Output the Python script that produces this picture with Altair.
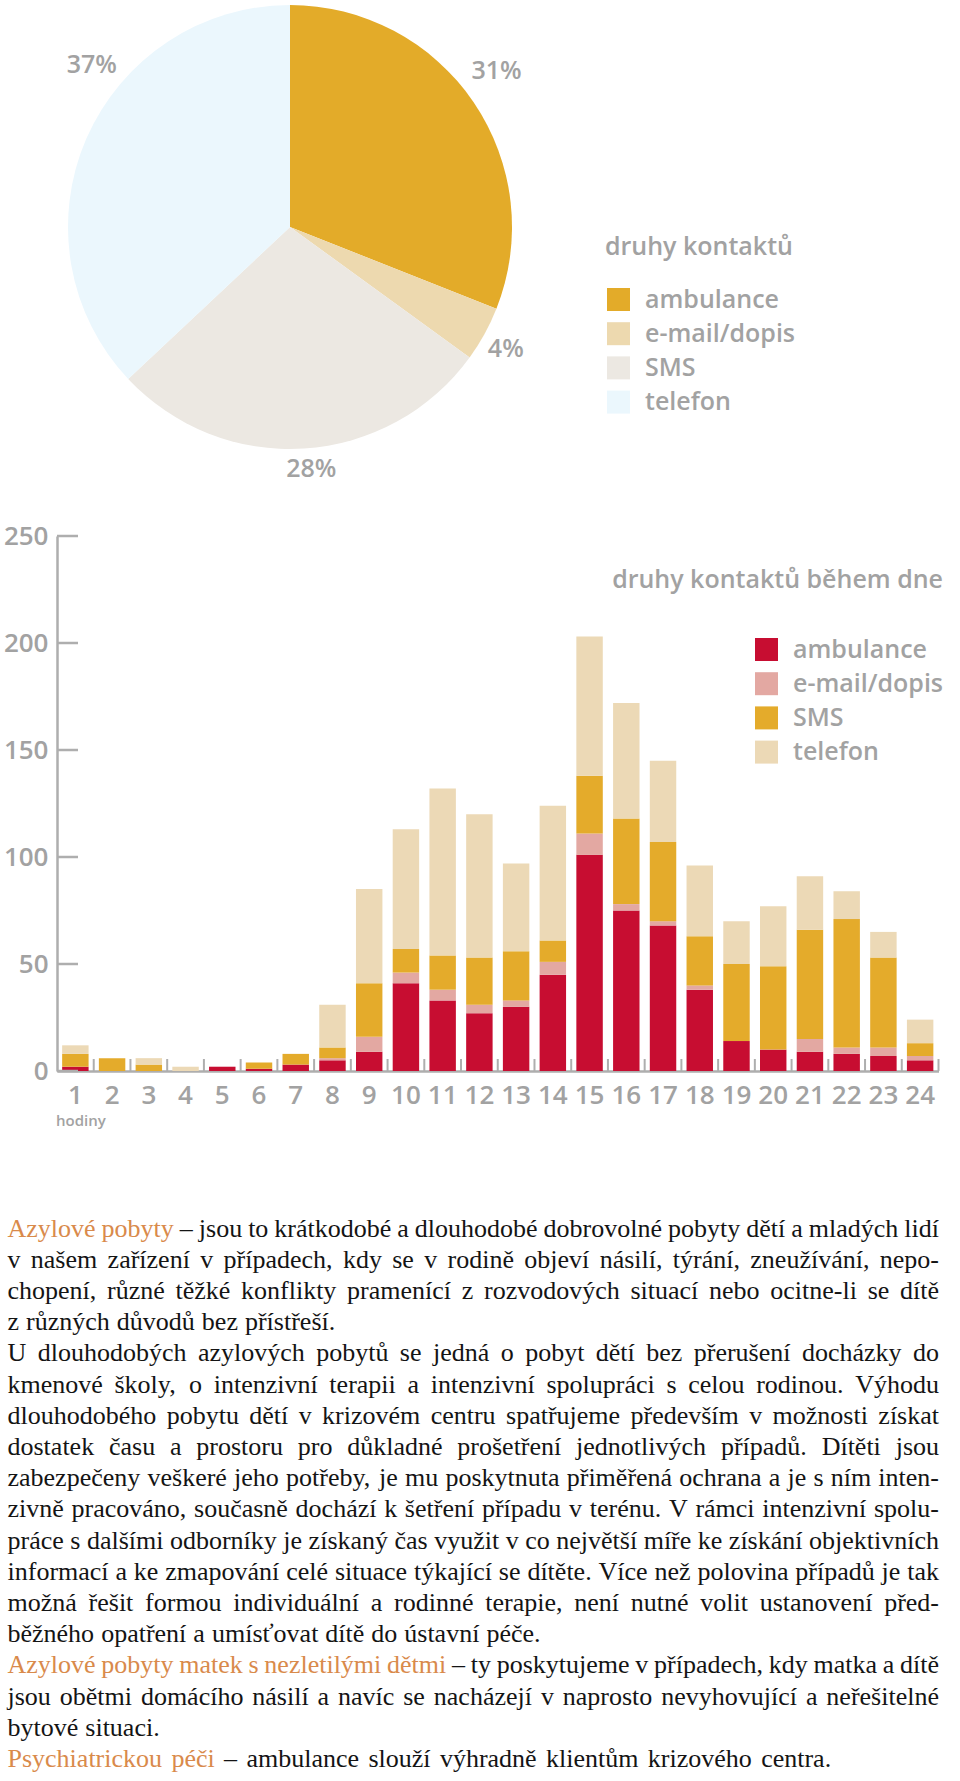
import altair as alt
import pandas as pd

# ---------------- data ----------------
PIE_TYPES = ["ambulance", "e-mail/dopis", "SMS", "telefon"]
PIE_SHARES = [31, 4, 28, 37]
PIE_COLORS = ["#E3AB29", "#EDD9AF", "#ECE8E2", "#EBF7FD"]

HOURS = list(range(1, 25))
BAR_TYPES = ["ambulance", "e-mail/dopis", "SMS", "telefon"]
BAR_COLORS = ["#C70D31", "#E3A8A2", "#E4AB2B", "#ECD9B6"]
AMBULANCE = [2, 0, 0, 0, 2, 1, 3, 5, 9, 41, 33, 27, 30, 45, 101, 75, 68, 38, 14, 10, 9, 8, 7, 5]
EMAIL = [0, 0, 0, 0, 0, 0, 0, 1, 7, 5, 5, 4, 3, 6, 10, 3, 2, 2, 0, 0, 6, 3, 4, 2]
SMS = [6, 6, 3, 0, 0, 3, 5, 5, 25, 11, 16, 22, 23, 10, 27, 40, 37, 23, 36, 39, 51, 60, 42, 6]
TELEFON = [4, 0, 3, 2, 0, 0, 0, 20, 44, 56, 78, 67, 41, 63, 65, 54, 38, 33, 20, 28, 25, 13, 12, 11]
Y_TICKS = [0, 50, 100, 150, 200, 250]

PIE_TITLE = "druhy kontaktů"
BAR_TITLE = "druhy kontaktů během dne"
X_NOTE = "hodiny"

HEADINGS = ["Azylové pobyty", "Azylové pobyty matek s nezletilými dětmi", "Psychiatrickou péči"]
LINES = [
    "Azylové pobyty – jsou to krátkodobé a dlouhodobé dobrovolné pobyty dětí a mladých lidí",
    "v našem zařízení v případech, kdy se v rodině objeví násilí, týrání, zneužívání, nepo-",
    "chopení, různé těžké konflikty pramenící z rozvodových situací nebo ocitne-li se dítě",
    "z různých důvodů bez přístřeší.",
    "U dlouhodobých azylových pobytů se jedná o pobyt dětí bez přerušení docházky do",
    "kmenové školy, o intenzivní terapii a intenzivní spolupráci s celou rodinou. Výhodu",
    "dlouhodobého pobytu dětí v krizovém centru spatřujeme především v možnosti získat",
    "dostatek času a prostoru pro důkladné prošetření jednotlivých případů. Dítěti jsou",
    "zabezpečeny veškeré jeho potřeby, je mu poskytnuta přiměřená ochrana a je s ním inten-",
    "zivně pracováno, současně dochází k šetření případu v terénu. V rámci intenzivní spolu-",
    "práce s dalšími odborníky je získaný čas využit v co největší míře ke získání objektivních",
    "informací a ke zmapování celé situace týkající se dítěte. Více než polovina případů je tak",
    "možná řešit formou individuální a rodinné terapie, není nutné volit ustanovení před-",
    "běžného opatření a umísťovat dítě do ústavní péče.",
    "Azylové pobyty matek s nezletilými dětmi – ty poskytujeme v případech, kdy matka a dítě",
    "jsou obětmi domácího násilí a navíc se nacházejí v naprosto nevyhovující a neřešitelné",
    "bytové situaci.",
    "Psychiatrickou péči –  ambulance slouží výhradně klientům krizového centra.",
]
PARAGRAPH_ENDS = [3, 13, 16, 17]  # lines that are not justified

# ---------------- styling ----------------
GREY = "#A2A2A2"
AXIS_GREY = "#AEAEAE"
FONT = "Open Sans"
WEIGHT = 600
SERIF = "Liberation Serif"
TEXT_BLACK = "#141414"
ORANGE = "#D98A4B"

PLOT_W = 881.5
PLOT_H = 535
PIE_X, PIE_Y, PIE_R = 233, -309, 222

# ---------------- pie ----------------
pie_df = pd.DataFrame({"type": PIE_TYPES, "share": PIE_SHARES, "idx": list(range(len(PIE_TYPES)))})
theta_scale = alt.Scale(domain=[0, 100])

pie = alt.Chart(pie_df).mark_arc(radius=PIE_R).encode(
    theta=alt.Theta("share:Q", stack=True, scale=theta_scale),
    order=alt.Order("idx:Q"),
    color=alt.Color(
        "type:N",
        scale=alt.Scale(domain=PIE_TYPES, range=PIE_COLORS),
        legend=alt.Legend(
            orient="none", legendX=549, legendY=-249, title=None,
            symbolType="square", symbolSize=529, symbolStrokeWidth=0,
            labelFont=FONT, labelFontSize=25, labelFontWeight=WEIGHT, labelColor=GREY,
            labelOffset=14, rowPadding=8.2, padding=0, direction="vertical",
        ),
    ),
    x=alt.value(PIE_X),
    y=alt.value(PIE_Y),
)

# label placement tweaks (angle offset in % of circle, radius in px)
LABEL_OFF = {"ambulance": (-0.8, 259), "e-mail/dopis": (0.2, 248), "SMS": (-0.4, 243), "telefon": (4.4, 256)}
label_base = (
    alt.Chart(pie_df)
    .transform_window(cum="sum(share)", sort=[alt.SortField("idx")])
    .transform_calculate(mid="datum.cum - datum.share / 2", label="datum.share + '%'")
)
pie_labels = []
for t in PIE_TYPES:
    off, r = LABEL_OFF[t]
    pie_labels.append(
        label_base.transform_filter(alt.datum.type == t)
        .transform_calculate(ang=f"datum.mid + ({off})")
        .mark_text(radius=r, font=FONT, fontSize=25, fontWeight=WEIGHT, color=GREY,
                   align="center", baseline="middle")
        .encode(
            theta=alt.Theta("ang:Q", stack=False, scale=theta_scale),
            text="label:N",
            x=alt.value(PIE_X),
            y=alt.value(PIE_Y),
        )
    )

pie_title = alt.Chart(pd.DataFrame({"t": [PIE_TITLE]})).mark_text(
    font=FONT, fontSize=25, fontWeight=WEIGHT, color=GREY, align="left", baseline="alphabetic"
).encode(text="t:N", x=alt.value(548), y=alt.value(-281))

# ---------------- bars ----------------
rows = []
for i, h in enumerate(HOURS):
    for k, (t, vals) in enumerate(zip(BAR_TYPES, [AMBULANCE, EMAIL, SMS, TELEFON])):
        rows.append({"hour": h, "type": t, "count": vals[i], "idx": k})
bar_df = pd.DataFrame(rows)

XSCALE = alt.Scale(paddingInner=0, paddingOuter=0)
XAXIS = alt.Axis(
    title=None, labelAngle=0, labelFont=FONT, labelFontSize=26, labelFontWeight=WEIGHT,
    labelColor=GREY, labelPadding=11, ticks=False, tickSize=0, domainColor=AXIS_GREY,
    domainWidth=2.5, grid=False, labelOverlap=False,
)
YSCALE = alt.Scale(domain=[0, 250], nice=False)
YAXIS = alt.Axis(
    title=None, values=Y_TICKS, labelFont=FONT, labelFontSize=26, labelFontWeight=WEIGHT,
    labelColor=GREY, labelPadding=9, ticks=False, tickSize=0, domainColor=AXIS_GREY,
    domainWidth=2.5, grid=False,
)

bars = alt.Chart(bar_df).mark_bar(width=alt.RelativeBandSize(0.72)).encode(
    x=alt.X("hour:O", scale=XSCALE, axis=XAXIS),
    y=alt.Y("count:Q", stack="zero", scale=YSCALE, axis=YAXIS),
    order=alt.Order("idx:Q"),
    color=alt.Color(
        "type:N",
        scale=alt.Scale(domain=BAR_TYPES, range=BAR_COLORS),
        legend=alt.Legend(
            orient="none", legendX=697, legendY=101, title=None,
            symbolType="square", symbolSize=529, symbolStrokeWidth=0,
            labelFont=FONT, labelFontSize=25, labelFontWeight=WEIGHT, labelColor=GREY,
            labelOffset=14, rowPadding=8.2, padding=0, direction="vertical",
        ),
    ),
)

y_ticks = alt.Chart(pd.DataFrame({"v": Y_TICKS})).mark_rule(color=AXIS_GREY, strokeWidth=2.5).encode(
    y=alt.Y("v:Q", scale=YSCALE, axis=YAXIS),
    x=alt.value(0),
    x2=alt.value(21),
)

x_ticks = alt.Chart(pd.DataFrame({"hour": HOURS})).mark_rule(color=AXIS_GREY, strokeWidth=2).encode(
    x=alt.X("hour:O", scale=XSCALE, axis=XAXIS, bandPosition=1),
    y=alt.datum(0),
    y2=alt.datum(5.6),
)

bar_title = alt.Chart(pd.DataFrame({"t": [BAR_TITLE]})).mark_text(
    font=FONT, fontSize=25, fontWeight=WEIGHT, color=GREY, align="right", baseline="alphabetic"
).encode(text="t:N", x=alt.value(886), y=alt.value(52))

x_note = alt.Chart(pd.DataFrame({"t": [X_NOTE]})).mark_text(
    font=FONT, fontSize=15, fontWeight=WEIGHT, color=GREY, align="left", baseline="alphabetic"
).encode(text="t:N", x=alt.value(-1), y=alt.value(590))

# ---------------- paragraph (justified by Times/Liberation metrics) ----------------
WIDTHS = {" ": 250, ",": 250, ".": 250, "-": 333, "–": 500,
          "a": 444, "b": 500, "c": 444, "d": 500, "e": 444, "f": 333, "g": 500, "h": 500,
          "i": 278, "j": 278, "k": 500, "l": 278, "m": 778, "n": 500, "o": 500, "p": 500,
          "q": 500, "r": 333, "s": 389, "t": 278, "u": 500, "v": 500, "w": 722, "x": 500,
          "y": 500, "z": 444, "A": 722, "D": 722, "P": 556, "U": 722, "V": 722, "ť": 420}
BASE = {"á": "a", "é": "e", "ě": "e", "í": "i", "ó": "o", "ú": "u", "ů": "u", "ý": "y",
        "č": "c", "ř": "r", "š": "s", "ž": "z", "ň": "n", "ď": "d"}


def word_width(w, fs):
    return sum(WIDTHS.get(BASE.get(ch, ch), 500) for ch in w) / 1000.0 * fs


FS = 26
X0, X1 = 7.5 - 57, 939 - 57
BASE_Y0, LEAD = 1236.5 - 536, 31.2
LAST_LINE_GAP = 0.36  # the last line of the reference is set a little looser

words_rows = []
for li, line in enumerate(LINES):
    words = line.split()
    n_orange = 0
    for hd in HEADINGS:
        if line.startswith(hd + " "):
            n_orange = len(hd.split())
    widths = [word_width(w, FS) for w in words]
    if li not in PARAGRAPH_ENDS and len(words) > 1:
        gap = (X1 - X0 - sum(widths)) / (len(words) - 1)
    elif li == len(LINES) - 1:
        gap = LAST_LINE_GAP * FS
    else:
        gap = 0.27 * FS
    x = X0
    for wi, (w, ww) in enumerate(zip(words, widths)):
        words_rows.append({"w": w, "px": x, "py": BASE_Y0 + li * LEAD,
                           "col": ORANGE if wi < n_orange else TEXT_BLACK})
        x += ww + gap
para_df = pd.DataFrame(words_rows)

paragraph = alt.Chart(para_df).mark_text(
    font=SERIF, fontSize=FS, align="left", baseline="alphabetic"
).encode(
    x=alt.X("px:Q", scale=None, axis=None),
    y=alt.Y("py:Q", scale=None, axis=None),
    text="w:N",
    color=alt.Color("col:N", scale=None),
)

chart = (
    alt.layer(pie, *pie_labels, pie_title, bars, y_ticks, x_ticks, bar_title, x_note, paragraph)
    .resolve_scale(color="independent")
    .properties(width=PLOT_W, height=PLOT_H, padding={"left": 3, "top": 5, "right": 0, "bottom": 0},
                background="white")
    .configure_view(stroke="transparent")
)

chart.save("out.html", embed_options={"renderer": "svg", "actions": False})
